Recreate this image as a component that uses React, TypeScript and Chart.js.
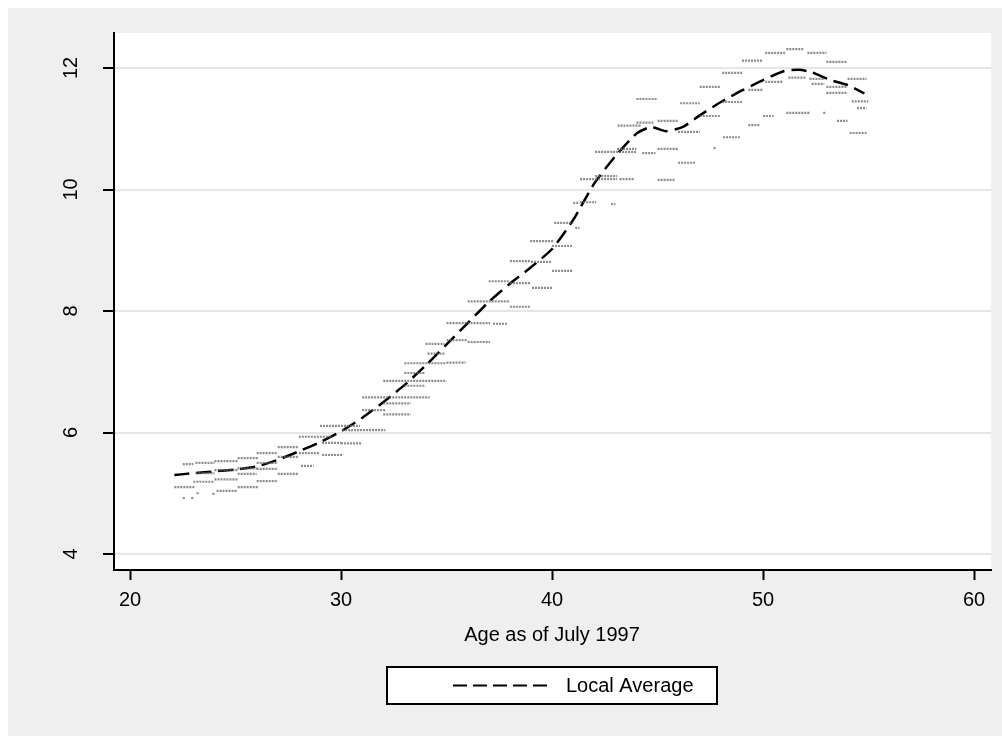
import React, { useEffect, useRef } from "react";
import { Chart, registerables } from "chart.js";

Chart.register(...registerables);

// ---- Data ----
const xTickValues = [20, 30, 40, 50, 60];
const yTickValues = [4, 6, 8, 10, 12];
const xTitle = "Age as of July 1997";
const legendLabel = "Local Average";

// Local average (dashed line)
const avgX = [22.1, 23.0, 24.0, 25.0, 26.0, 27.0, 28.0, 29.0, 30.0, 31.0, 32.0, 33.0, 34.0, 35.0, 36.0, 37.0, 38.0, 39.0, 40.0, 41.0, 42.0, 43.0, 44.0, 44.7, 45.4, 46.2, 47.0, 48.0, 49.0, 50.0, 51.0, 51.7, 52.3, 53.2, 54.0, 54.8];
const avgY = [5.30, 5.33, 5.36, 5.39, 5.44, 5.55, 5.69, 5.84, 6.02, 6.24, 6.50, 6.78, 7.10, 7.45, 7.80, 8.15, 8.45, 8.72, 9.02, 9.50, 10.10, 10.55, 10.92, 11.03, 10.96, 11.03, 11.22, 11.44, 11.63, 11.80, 11.95, 11.97, 11.93, 11.80, 11.72, 11.58];

// Observation clusters (horizontal runs of tiny markers): start age, end age, value
const clusterStart = [
  22.5, 23.1, 24.0, 25.1, 26.0, 27.0, 28.0, 29.0, 30.05, 29.1, 30.0, 28.0, 29.1, 27.0, 26.0, 28.1,
  23.1, 24.0, 25.1, 25.1, 26.0, 27.0, 23.0, 24.0, 25.1, 26.0, 22.1, 24.1, 22.5, 22.9, 23.15, 23.9,
  31.0, 31.0, 32.0, 32.0, 32.0, 32.0, 33.0, 33.0, 34.1,
  33.0, 35.0, 34.0, 35.0, 36.0, 35.0, 37.2, 36.0, 38.0, 37.0, 38.0, 39.05, 38.0, 39.0, 40.0, 38.96, 40.0, 40.1, 41.1, 41.0,
  41.33, 42.8, 41.33, 42.04, 43.2, 45.0, 42.04, 43.08, 44.27, 45.0, 47.65, 45.97,
  43.1, 44.0, 45.0, 45.97, 49.3, 48.1,
  44.0, 46.07, 48.06, 54.2, 47.0, 54.45, 50.0, 51.1, 52.85, 53.5, 54.1,
  47.0, 49.3, 52.3, 53.0, 54.0, 53.0, 50.1, 51.2, 52.2, 48.06, 49.0, 53.0, 50.1, 52.1, 51.1,
];
const clusterEnd = [
  23.0, 24.0, 25.1, 26.1, 27.0, 28.0, 29.6, 30.9, 32.1, 30.0, 31.0, 29.0, 30.1, 28.0, 27.0, 28.7,
  24.0, 25.1, 26.0, 26.0, 27.0, 28.0, 24.0, 25.1, 26.1, 27.0, 23.1, 25.1, 22.6, 23.0, 23.3, 24.05,
  32.1, 32.0, 34.2, 33.3, 33.3, 35.0, 34.0, 34.0, 34.9,
  35.0, 35.9, 34.9, 36.0, 37.06, 37.06, 37.9, 38.0, 38.96, 38.0, 39.0, 40.05, 38.96, 40.0, 41.0, 40.05, 41.0, 41.0, 41.3, 41.3,
  42.1, 43.0, 43.08, 43.08, 43.9, 45.8, 44.0, 44.0, 44.9, 45.97, 47.75, 46.8,
  44.2, 44.8, 46.0, 47.0, 49.86, 48.9,
  45.0, 47.0, 49.05, 54.98, 47.96, 54.9, 50.5, 52.2, 52.95, 54.0, 54.9,
  47.96, 50.0, 52.9, 54.0, 54.9, 54.0, 50.9, 52.0, 52.9, 49.05, 50.0, 54.0, 51.04, 53.0, 51.9,
];
const clusterY = [
  5.48, 5.50, 5.53, 5.58, 5.66, 5.76, 5.93, 6.11, 6.04, 5.83, 5.82, 5.66, 5.63, 5.60, 5.50, 5.45,
  5.33, 5.38, 5.41, 5.32, 5.40, 5.32, 5.19, 5.23, 5.10, 5.20, 5.10, 5.04, 4.92, 4.92, 5.00, 4.99,
  6.37, 6.58, 6.58, 6.48, 6.30, 6.85, 6.77, 6.98, 7.30,
  7.14, 7.15, 7.46, 7.52, 7.49, 7.80, 7.79, 8.16, 8.07, 8.49, 8.46, 8.38, 8.82, 8.81, 8.66, 9.15, 9.07, 9.45, 9.37, 9.78,
  9.79, 9.76, 10.17, 10.22, 10.17, 10.16, 10.62, 10.67, 10.60, 10.67, 10.68, 10.44,
  11.05, 11.10, 11.13, 10.95, 11.06, 10.86,
  11.49, 11.42, 11.44, 11.45, 11.21, 11.34, 11.21, 11.26, 11.26, 11.13, 10.93,
  11.69, 11.64, 11.74, 11.69, 11.82, 11.59, 11.77, 11.84, 11.82, 11.92, 12.12, 12.10, 12.25, 12.25, 12.31,
];

const X_MIN = 19.24;
const X_MAX = 60.8;
const Y_MIN = 3.737;
const Y_MAX = 12.576;

const FONT = "'Liberation Sans', Arial, Helvetica, sans-serif";
const BG = "#efefef";

const W = 994;
const H = 728;

const decorPlugin = {
  id: "decor",
  beforeDraw(chart: any) {
    const { ctx, chartArea } = chart;
    ctx.save();
    ctx.fillStyle = BG;
    ctx.fillRect(0, 0, chart.width, chart.height);
    ctx.fillStyle = "#ffffff";
    ctx.fillRect(chartArea.left, chartArea.top, chartArea.right - chartArea.left, chartArea.bottom - chartArea.top);
    ctx.restore();
  },
  afterDraw(chart: any) {
    const { ctx, chartArea } = chart;
    const yScale = chart.scales.y;
    ctx.save();
    // rotated y tick labels
    ctx.fillStyle = "#000";
    ctx.font = `20px ${FONT}`;
    ctx.textAlign = "center";
    ctx.textBaseline = "middle";
    for (const v of yTickValues) {
      const py = yScale.getPixelForValue(v);
      ctx.save();
      ctx.translate(63, py);
      ctx.rotate(-Math.PI / 2);
      ctx.fillText(String(v), 0, 0);
      ctx.restore();
    }
    // x title
    ctx.font = `20px ${FONT}`;
    ctx.fillText(xTitle, 544, 627);
    // legend
    const lx = 379, ly = 659, lw = 330, lh = 37;
    ctx.fillStyle = "#ffffff";
    ctx.fillRect(lx, ly, lw, lh);
    ctx.strokeStyle = "#000";
    ctx.lineWidth = 2;
    ctx.strokeRect(lx, ly, lw, lh);
    ctx.beginPath();
    ctx.setLineDash([14, 6]);
    ctx.lineWidth = 2;
    ctx.moveTo(445, ly + lh / 2);
    ctx.lineTo(540, ly + lh / 2);
    ctx.stroke();
    ctx.setLineDash([]);
    ctx.fillStyle = "#000";
    ctx.textAlign = "left";
    ctx.font = `20px ${FONT}`;
    ctx.fillText(legendLabel, 558, ly + lh / 2 + 1);
    ctx.restore();
  },
};

export default function App() {
  const ref = useRef<HTMLCanvasElement | null>(null);

  useEffect(() => {
    if (!ref.current) return;
    const clusterData: any[] = [];
    for (let i = 0; i < clusterY.length; i++) {
      clusterData.push({ x: clusterStart[i], y: clusterY[i] });
      clusterData.push({ x: clusterEnd[i], y: clusterY[i] });
      clusterData.push({ x: clusterEnd[i], y: null });
    }
    const avgData = avgX.map((x, i) => ({ x, y: avgY[i] }));

    const chart = new Chart(ref.current, {
      type: "scatter",
      data: {
        datasets: [
          {
            type: "line",
            label: "obs",
            data: clusterData,
            showLine: true,
            spanGaps: false,
            borderColor: "rgba(100,100,100,0.75)",
            borderWidth: 2.2,
            borderDash: [2, 1],
            pointRadius: 0,
            fill: false,
          } as any,
          {
            type: "line",
            label: legendLabel,
            data: avgData,
            showLine: true,
            borderColor: "#000",
            borderWidth: 2.5,
            borderDash: [15, 7],
            pointRadius: 0,
            tension: 0.2,
            fill: false,
          } as any,
        ],
      },
      options: {
        responsive: false,
        animation: false,
        layout: { padding: { left: 0, top: 25, right: 11, bottom: 0 } },
        plugins: { legend: { display: false }, tooltip: { enabled: false } },
        scales: {
          x: {
            type: "linear",
            min: X_MIN,
            max: X_MAX,
            afterBuildTicks: (s: any) => {
              s.ticks = xTickValues.map((v) => ({ value: v }));
            },
            afterFit: (s: any) => {
              s.height = H - 562;
            },
            grid: {
              drawOnChartArea: false,
              drawTicks: true,
              tickLength: 10,
              tickColor: "#000",
              tickWidth: 2,
            },
            border: { display: true, color: "#000", width: 2 },
            ticks: {
              color: "#000",
              font: { size: 20, family: FONT },
              padding: 8,
              maxRotation: 0,
              autoSkip: false,
            },
          },
          y: {
            type: "linear",
            min: Y_MIN,
            max: Y_MAX,
            afterBuildTicks: (s: any) => {
              s.ticks = yTickValues.map((v) => ({ value: v }));
            },
            afterFit: (s: any) => {
              s.width = 106;
            },
            grid: {
              color: "#e6e6e6",
              lineWidth: 2,
              drawTicks: true,
              tickLength: 11,
              tickColor: "#000",
              tickWidth: 2,
            },
            border: { display: true, color: "#000", width: 2 },
            ticks: { display: false },
          },
        },
      },
      plugins: [decorPlugin],
    });
    return () => chart.destroy();
  }, []);

  return (
    <div style={{ position: "fixed", left: 8, top: 8, width: W, height: H, overflow: "hidden" }}>
      <canvas ref={ref} width={W} height={H} style={{ display: "block", width: W, height: H }} />
    </div>
  );
}
